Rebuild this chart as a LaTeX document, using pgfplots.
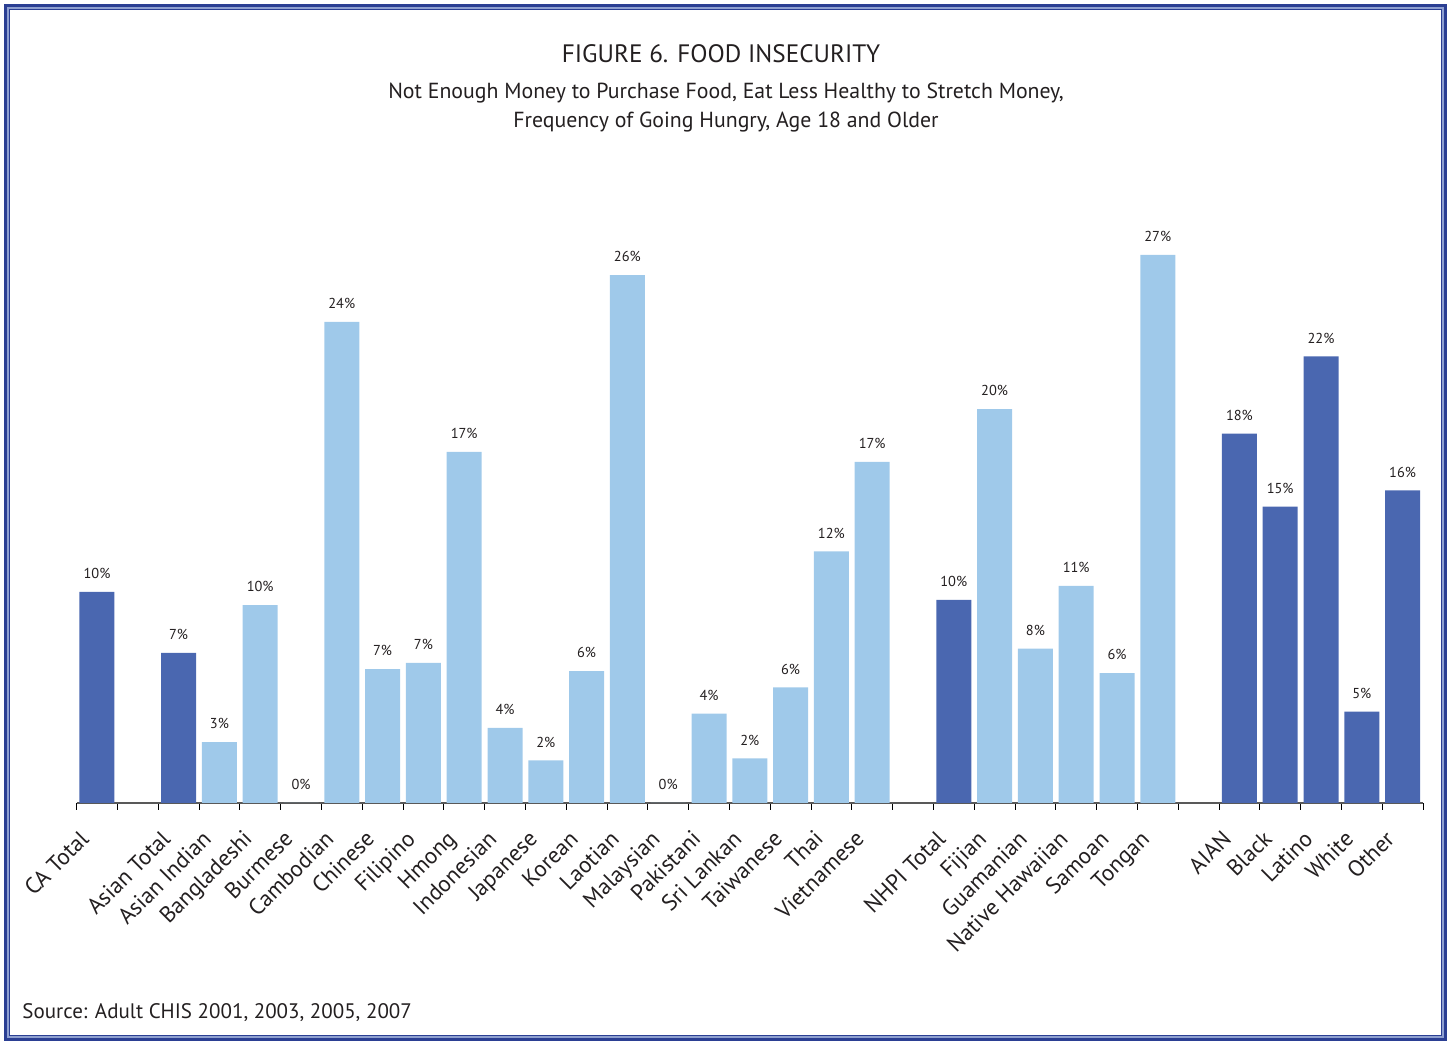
\documentclass[border=0pt]{standalone}
\usepackage{pgfplots}
\pgfplotsset{compat=1.18}
\usepackage{fontspec}
\setmainfont{PT Sans}
\definecolor{darkbar}{HTML}{4A67B0}
\definecolor{lightbar}{HTML}{9FC9EA}
\definecolor{frameblue}{HTML}{2B3F93}
\definecolor{framelight}{HTML}{8FA0D0}
\definecolor{txt}{HTML}{231F20}
\begin{document}
\begin{tikzpicture}
\path[use as bounding box] (-38.3pt,-119.5pt) rectangle (686.2pt,401.5pt);
% frame
\draw[frameblue, line width=1.6pt] (-35.3pt,-118pt) rectangle (684.2pt,398.5pt);
\draw[framelight, line width=0.8pt] (-34.2pt,-117pt) rectangle (683.1pt,397.4pt);
\draw[frameblue, line width=0.5pt] (-33.5pt,-116.3pt) rectangle (682.3pt,396.7pt);
\begin{axis}[
  at={(0pt,0pt)}, anchor=south west, scale only axis,
  width=673.2pt, height=304.5pt,
  xmin=-0.5, xmax=32.5, ymin=0, ymax=30,
  ybar, bar width=17.5pt,
  axis y line=none, axis x line*=bottom,
  x axis line style={gray!70!black, line width=0.6pt},
  xtick={0,...,32}, major tick length=0pt,
  minor xtick={-0.5,0.5,...,32.5}, minor tick length=3.5pt,
  minor tick style={black, line width=0.5pt},
  tick align=outside,
  xticklabels={CA Total,,Asian Total,Asian Indian,Bangladeshi,Burmese,Cambodian,Chinese,Filipino,Hmong,Indonesian,Japanese,Korean,Laotian,Malaysian,Pakistani,Sri Lankan,Taiwanese,Thai,Vietnamese,,NHPI Total,Fijian,Guamanian,Native Hawaiian,Samoan,Tongan,,AIAN,Black,Latino,White,Other},
  xticklabel style={xshift=-9.2pt, yshift=-12.8pt, rotate=45, anchor=north east, font=\fontsize{11.4}{13}\selectfont, text=txt, inner sep=0pt},
  point meta=explicit symbolic,
  nodes near coords,
  every node near coord/.append style={font=\fontsize{7.2}{8}\selectfont, text=txt, yshift=3pt},
]
\addplot[fill=darkbar, draw=none, bar shift=0pt] coordinates {
 (0,10.4)[10\%] (2,7.4)[7\%] (21,10.0)[10\%] (28,18.2)[18\%]
 (29,14.6)[15\%] (30,22.0)[22\%] (31,4.5)[5\%] (32,15.4)[16\%]
};
\addplot[fill=lightbar, draw=none, bar shift=0pt] coordinates {
 (3,3.0)[3\%] (4,9.75)[10\%] (5,0)[0\%] (6,23.7)[24\%] (7,6.6)[7\%]
 (8,6.9)[7\%] (9,17.3)[17\%] (10,3.7)[4\%] (11,2.1)[2\%] (12,6.5)[6\%]
 (13,26.0)[26\%] (14,0)[0\%] (15,4.4)[4\%] (16,2.2)[2\%] (17,5.7)[6\%]
 (18,12.4)[12\%] (19,16.8)[17\%] (22,19.4)[20\%] (23,7.6)[8\%]
 (24,10.7)[11\%] (25,6.4)[6\%] (26,27.0)[27\%]
};
\end{axis}
\node[text=txt, font=\fontsize{12.6}{14}\selectfont] at (322.2pt,374.5pt) {FIGURE 6. FOOD INSECURITY};
\node[text=txt, font=\fontsize{10.9}{12}\selectfont] at (324.7pt,355pt) {Not Enough Money to Purchase Food, Eat Less Healthy to Stretch Money,};
\node[text=txt, font=\fontsize{10.9}{12}\selectfont] at (324.7pt,340.5pt) {Frequency of Going Hungry, Age 18 and Older};
\node[text=txt, font=\fontsize{10.5}{12}\selectfont, anchor=base west, inner sep=0pt] at (-27.3pt,-108pt) {Source: Adult CHIS 2001, 2003, 2005, 2007};
\end{tikzpicture}
\end{document}
